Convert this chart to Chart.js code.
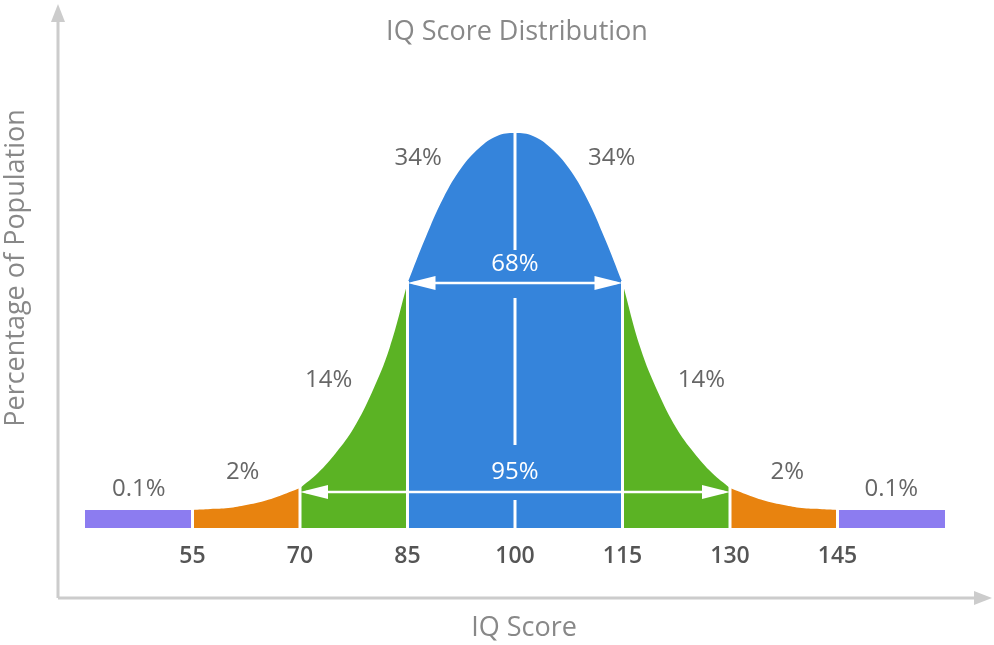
<!DOCTYPE html>
<html>
<head>
<meta charset="utf-8">
<script src="https://cdn.jsdelivr.net/npm/chart.js@4"></script>
<style>
  html, body { margin: 0; padding: 0; background: #fff; }
  #wrap { width: 994px; height: 645px; }
</style>
</head>
<body>
<div id="wrap"><canvas id="bell"></canvas></div>
<script>
// Curve heights (arbitrary units), every 2.5 IQ points
const iqPoints = [55, 57.5, 60, 62.5, 65, 67.5, 70, 72.5, 75, 77.5, 80, 82.5, 85, 87.5, 90, 92.5, 95, 97.5,
                  100, 102.5, 105, 107.5, 110, 112.5, 115, 117.5, 120, 122.5, 125, 127.5, 130, 132.5, 135, 137.5, 140, 142.5, 145];
const curveHeights = [1.8, 1.9, 2.0, 2.3, 2.7, 3.3, 4.0, 5.5, 7.5, 10.0, 13.5, 18.0, 24.5, 29.0, 33.0, 36.0, 38.0, 39.2,
                      39.5, 39.2, 38.0, 36.0, 33.0, 29.0, 24.5, 18.0, 13.5, 10.0, 7.5, 5.5, 4.0, 3.3, 2.7, 2.3, 2.0, 1.9, 1.8];
const tailHeight = 1.8;
const tailRanges = [[40, 55], [145, 160]];
const tickLabels = [55, 70, 85, 100, 115, 130, 145];
const bandRanges = [[55, 70], [70, 85], [85, 115], [115, 130], [130, 145]];
const bandColors = ["#e8830f", "#5bb324", "#3584db", "#5bb324", "#e8830f"];
const tailColor = "#8c7cf0";
const pctLabels = ["0.1%", "2%", "14%", "34%", "34%", "14%", "2%", "0.1%", "68%", "95%"];
const pctPos = [[47.5, 3.9], [62, 5.6], [74, 14.8], [86.5, 37], [113.5, 37], [126, 14.8], [138, 5.6], [152.5, 3.9], [100, 26.4], [100, 5.6]];

function bandData(lo, hi) {
    const pts = [];
    iqPoints.forEach((x, i) => { if (x >= lo && x <= hi) pts.push({ x: x, y: curveHeights[i] }); });
    return pts;
}

const datasets = bandRanges.map((r, i) => ({
    data: bandData(r[0], r[1]),
    borderWidth: 0, pointRadius: 0, tension: 0.4, fill: "origin",
    backgroundColor: bandColors[i], borderColor: bandColors[i]
}));
tailRanges.forEach(r => datasets.push({
    data: [{ x: r[0], y: tailHeight }, { x: r[1], y: tailHeight }],
    borderWidth: 0, pointRadius: 0, fill: "origin",
    backgroundColor: tailColor, borderColor: tailColor
}));

function arrow(ctx, x1, x2, y) {
    ctx.beginPath(); ctx.moveTo(x1 + 6, y); ctx.lineTo(x2 - 6, y); ctx.stroke();
    [[x1, 1], [x2, -1]].forEach(([x, d]) => {
        ctx.beginPath(); ctx.moveTo(x, y); ctx.lineTo(x + d * 28, y - 7); ctx.lineTo(x + d * 28, y + 7); ctx.closePath(); ctx.fill();
    });
}

const decor = {
    id: "decor",
    afterDatasetsDraw(chart) {
        const ctx = chart.ctx, xs = chart.scales.x, ys = chart.scales.y;
        const base = ys.getPixelForValue(0);
        ctx.save();
        // white separators between bands
        ctx.strokeStyle = "#fff"; ctx.lineWidth = 3;
        tickLabels.forEach(v => {
            if (v === 100) return;
            const i = iqPoints.indexOf(v);
            const px = xs.getPixelForValue(v);
            ctx.beginPath(); ctx.moveTo(px, base); ctx.lineTo(px, ys.getPixelForValue(Math.max(curveHeights[i], tailHeight)) - 2); ctx.stroke();
        });
        const cx = xs.getPixelForValue(100);
        [[39.5, 27.8], [23, 8.3], [2.8, 0]].forEach(([a, b]) => {
            ctx.beginPath(); ctx.moveTo(cx, ys.getPixelForValue(a)); ctx.lineTo(cx, ys.getPixelForValue(b)); ctx.stroke();
        });
        // arrows
        ctx.fillStyle = "#fff"; ctx.lineWidth = 2.5;
        arrow(ctx, xs.getPixelForValue(85), xs.getPixelForValue(115), ys.getPixelForValue(24.5));
        arrow(ctx, xs.getPixelForValue(70), xs.getPixelForValue(130), ys.getPixelForValue(3.6));
        // percent labels
        ctx.font = "24px 'Open Sans'"; ctx.textAlign = "center"; ctx.textBaseline = "middle";
        pctLabels.forEach((t, i) => {
            ctx.fillStyle = i >= 8 ? "#fff" : "#666";
            ctx.fillText(t, xs.getPixelForValue(pctPos[i][0]), ys.getPixelForValue(pctPos[i][1]));
        });
        // tick labels
        ctx.fillStyle = "#555"; ctx.font = "600 23px 'Open Sans'";
        tickLabels.forEach(v => ctx.fillText(String(v), xs.getPixelForValue(v), base + 28));
        // axes with arrowheads
        ctx.strokeStyle = "#ccc"; ctx.fillStyle = "#ccc"; ctx.lineWidth = 3;
        ctx.beginPath(); ctx.moveTo(58, 598); ctx.lineTo(58, 18); ctx.moveTo(58, 598); ctx.lineTo(978, 598); ctx.stroke();
        ctx.beginPath(); ctx.moveTo(58, 4); ctx.lineTo(51, 22); ctx.lineTo(65, 22); ctx.closePath(); ctx.fill();
        ctx.beginPath(); ctx.moveTo(992, 598); ctx.lineTo(974, 591); ctx.lineTo(974, 605); ctx.closePath(); ctx.fill();
        // titles
        ctx.fillStyle = "#888"; ctx.font = "27px 'Open Sans'";
        ctx.fillText("IQ Score Distribution", 517, 32);
        ctx.fillText("IQ Score", 524, 628);
        ctx.translate(16, 268); ctx.rotate(-Math.PI / 2);
        ctx.fillText("Percentage of Population", 0, 0);
        ctx.restore();
    }
};

new Chart(document.getElementById("bell"), {
    type: "line",
    data: { datasets: datasets },
    options: {
        responsive: true, maintainAspectRatio: false, animation: false,
        layout: { padding: { left: 85, right: 49, top: 100, bottom: 117 } },
        plugins: { legend: { display: false }, tooltip: { enabled: false } },
        scales: {
            x: { type: "linear", min: 40, max: 160, display: false },
            y: { min: 0, max: 42.8, display: false }
        }
    },
    plugins: [decor]
});
</script>
</body>
</html>
